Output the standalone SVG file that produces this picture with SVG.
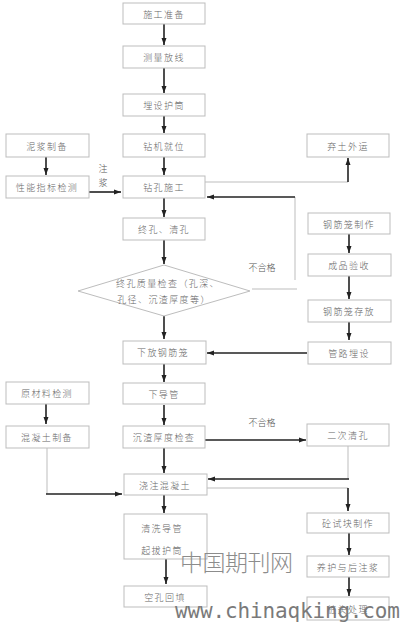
<svg xmlns="http://www.w3.org/2000/svg" width="405" height="623" viewBox="0 0 405 623">
<defs>
<marker id="ah" markerUnits="userSpaceOnUse" markerWidth="8" markerHeight="6" refX="7" refY="3" orient="auto">
<path d="M0,0.5 L7,3 L0,5.5 Z" fill="#222"/>
</marker>
</defs>
<style>
.box{fill:#fff;stroke:#bdbdbd;stroke-width:1}
.t{font-family:"Noto Sans CJK SC","Noto Sans",sans-serif;font-size:9px;font-weight:300;letter-spacing:1.4px;fill:#666;text-anchor:middle;dominant-baseline:central}
.a{stroke:#222;stroke-width:1.6;fill:none;marker-end:url(#ah)}
.thin{stroke:#bdbdbd;stroke-width:1;fill:none}
.lbl{font-family:"Noto Sans CJK SC","Noto Sans",sans-serif;font-size:9px;font-weight:300;fill:#555;text-anchor:middle;dominant-baseline:central}
</style>
<rect width="405" height="623" fill="#fff"/>
<g id="connectors">
<line class="a" x1="164" y1="24" x2="164" y2="45"/>
<line class="a" x1="164" y1="68" x2="164" y2="93"/>
<line class="a" x1="164" y1="116" x2="164" y2="133"/>
<line class="a" x1="164" y1="157" x2="164" y2="175"/>
<line class="a" x1="46" y1="157" x2="46" y2="175"/>
<line class="a" x1="89" y1="192" x2="121" y2="192"/>
<polyline class="thin" points="205,182 348,182"/>
<line class="a" x1="348" y1="182" x2="348" y2="158"/>
<line class="thin" x1="295" y1="197" x2="295" y2="280"/>
<line class="thin" x1="252" y1="289" x2="297" y2="289"/>
<line class="a" x1="295" y1="197" x2="207" y2="197"/>
<line class="a" x1="164" y1="198" x2="164" y2="217"/>
<line class="a" x1="164" y1="240" x2="164" y2="264"/>
<line class="a" x1="164" y1="316" x2="164" y2="339"/>
<line class="a" x1="349" y1="234" x2="349" y2="253"/>
<line class="a" x1="349" y1="276" x2="349" y2="299"/>
<line class="a" x1="349" y1="322" x2="349" y2="340"/>
<line class="a" x1="307" y1="353" x2="207" y2="353"/>
<line class="a" x1="164" y1="364" x2="164" y2="382"/>
<line class="a" x1="46" y1="404" x2="46" y2="424"/>
<line class="a" x1="164" y1="405" x2="164" y2="425"/>
<line class="a" x1="205" y1="440" x2="306" y2="440"/>
<line class="thin" x1="348" y1="446" x2="348" y2="479"/>
<line class="a" x1="349" y1="479" x2="208" y2="479"/>
<line class="thin" x1="47" y1="448" x2="47" y2="494"/>
<line class="a" x1="46" y1="494" x2="122" y2="494"/>
<line class="a" x1="164" y1="448" x2="164" y2="473"/>
<polyline class="thin" points="207,488 348,488"/>
<line class="a" x1="348" y1="488" x2="348" y2="511"/>
<line class="a" x1="164" y1="495" x2="164" y2="513"/>
<line class="a" x1="166" y1="559" x2="166" y2="584"/>
<line class="a" x1="349" y1="533" x2="349" y2="555"/>
<line class="a" x1="349" y1="577" x2="349" y2="596"/>
<text class="lbl" x="103" y="168">注</text>
<text class="lbl" x="103" y="182">浆</text>
<text class="lbl" x="262" y="267">不合格</text>
<text class="lbl" x="262" y="422">不合格</text>
</g>
<g id="n1"><rect class="box" x="123" y="3" width="82" height="21"/><text class="t" x="164" y="14">施工准备</text></g>
<g id="n2"><rect class="box" x="123" y="46" width="82" height="22"/><text class="t" x="164" y="57">测量放线</text></g>
<g id="n3"><rect class="box" x="123" y="94" width="82" height="22"/><text class="t" x="164" y="105">埋设护筒</text></g>
<g id="n4"><rect class="box" x="123" y="134" width="82" height="23"/><text class="t" x="164" y="146">钻机就位</text></g>
<g id="n5"><rect class="box" x="123" y="176" width="82" height="22"/><text class="t" x="164" y="187">钻孔施工</text></g>
<g id="n6"><rect class="box" x="6" y="134" width="83" height="23"/><text class="t" x="47" y="146">泥浆制备</text></g>
<g id="n7"><rect class="box" x="6" y="176" width="83" height="22"/><text class="t" x="47" y="187">性能指标检测</text></g>
<g id="n8"><rect class="box" x="307" y="134" width="82" height="23"/><text class="t" x="348" y="146">弃土外运</text></g>
<g id="n9"><rect class="box" x="123" y="218" width="82" height="22"/><text class="t" x="164" y="229">终孔、清孔</text></g>
<g id="n10"><polygon class="box" points="164,265 250,291 164,316 78,291"/><text class="t" x="168" y="283">终孔质量检查（孔深、</text><text class="t" x="164" y="299">孔径、沉渣厚度等）</text></g>
<g id="n11"><rect class="box" x="308" y="213" width="82" height="21"/><text class="t" x="349" y="224">钢筋笼制作</text></g>
<g id="n12"><rect class="box" x="308" y="254" width="83" height="22"/><text class="t" x="349" y="265">成品验收</text></g>
<g id="n13"><rect class="box" x="308" y="300" width="83" height="22"/><text class="t" x="349" y="311">钢筋笼存放</text></g>
<g id="n14"><rect class="box" x="308" y="342" width="83" height="22"/><text class="t" x="349" y="353">管路埋设</text></g>
<g id="n15"><rect class="box" x="123" y="341" width="83" height="23"/><text class="t" x="163" y="352">下放钢筋笼</text></g>
<g id="n16"><rect class="box" x="6" y="382" width="83" height="22"/><text class="t" x="47" y="393">原材料检测</text></g>
<g id="n17"><rect class="box" x="6" y="426" width="83" height="22"/><text class="t" x="47" y="437">混凝土制备</text></g>
<g id="n18"><rect class="box" x="123" y="383" width="82" height="21"/><text class="t" x="164" y="394">下导管</text></g>
<g id="n19"><rect class="box" x="123" y="426" width="82" height="22"/><text class="t" x="164" y="437">沉渣厚度检查</text></g>
<g id="n20"><rect class="box" x="307" y="424" width="82" height="22"/><text class="t" x="348" y="435">二次清孔</text></g>
<g id="n21"><rect class="box" x="124" y="474" width="83" height="21"/><text class="t" x="165" y="485">浇注混凝土</text></g>
<g id="n22"><rect class="box" x="124" y="514" width="83" height="45"/><text class="t" x="162" y="528">清洗导管</text><text class="t" x="162" y="550">起拔护筒</text></g>
<g id="n23"><rect class="box" x="124" y="586" width="83" height="21"/><text class="t" x="165" y="597">空孔回填</text></g>
<g id="n24"><rect class="box" x="307" y="513" width="82" height="20"/><text class="t" x="348" y="523">砼试块制作</text></g>
<g id="n25"><rect class="box" x="307" y="556" width="82" height="21"/><text class="t" x="348" y="567">养护与后注浆</text></g>
<g id="n26"><rect class="box" x="307" y="597" width="82" height="23"/><text class="t" x="348" y="609">桩头处理</text></g>
<g id="watermark">
<text x="180" y="571" font-family="'Noto Sans CJK SC',sans-serif" font-weight="300" font-size="23" fill="#8c8c8c" textLength="113">中国期刊网</text>
<text x="175" y="618" font-family="'DejaVu Sans Mono',monospace" font-size="21" fill="#7a7a7a" textLength="225">www.chinaqking.com</text>
</g>
</svg>
